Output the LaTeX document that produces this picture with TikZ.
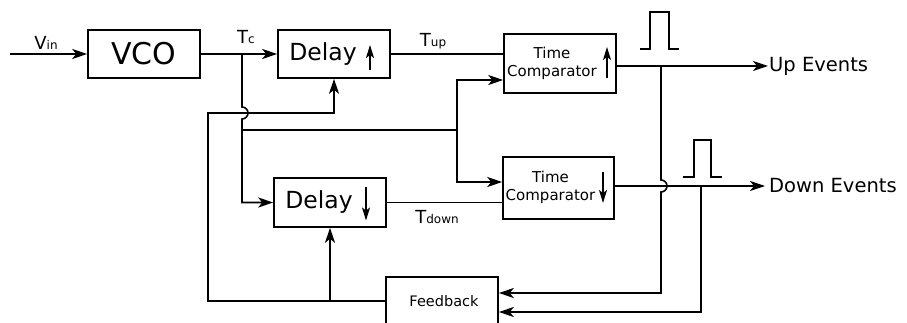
\documentclass[tikz,border=0pt]{standalone}
\usepackage{fontspec}
\setmainfont{DejaVu Sans}
\usetikzlibrary{arrows.meta}
\def\sz#1{\fontsize{#1}{#1}\selectfont}
\def\sig#1#2{{\sz{18}#1}{\sz{12}#2}}
\tikzset{
    blk/.style={draw, line width=1.6pt, minimum width=112pt, minimum height=48pt, inner sep=0pt},
    wire/.style={line width=1.6pt},
    flow/.style={wire, -{Stealth[length=15pt,width=10pt,inset=4pt]}},
    updn/.style={wire, -{Stealth[length=13pt,width=8pt,inset=3pt]}},
    lbl/.style={anchor=base, inner sep=0pt}
}

\begin{document}
\begin{tikzpicture}[x=1pt, y=-1pt]
    \useasboundingbox (0,0) rectangle (907,323);
    \clip (0,0) rectangle (907,323);

    % blocks
    \node[blk, font=\sz{30}] (vco) at (144,54) {VCO};
    \node[blk, font=\sz{23.5}] (dlyup) at (334,54) {Delay\hspace{22pt}\null};
    \node[blk, font=\sz{23.5}, minimum height=49pt] (dlydn) at (330,202.5) {Delay\hspace{22pt}\null};
    \node[blk, font=\fontsize{15}{18}\selectfont, minimum height=59pt] (cmpup) at (560,63.5)
        {\begin{tabular}{@{}c@{}}Time\\Comparator\end{tabular}\hspace{16pt}\null};
    \node[blk, font=\fontsize{15}{18}\selectfont, minimum width=111pt, minimum height=62pt] (cmpdn) at (558.5,188)
        {\begin{tabular}{@{}c@{}}Time\\Comparator\end{tabular}\hspace{16pt}\null};
    \node[blk, font=\sz{14.5}] (fb) at (442,301) {\hspace{4pt}Feedback};
    \node[anchor=west, inner sep=1pt, font=\sz{19.5}] (upev) at (768,66) {Up Events};
    \node[anchor=west, inner sep=4pt, font=\sz{19.5}] (dnev) at (765,186) {Down Events};

    % up/down marks in the blocks
    \draw[updn] ([shift={(36,16)}]dlyup.center) -- ([shift={(36,-9)}]dlyup.center);
    \draw[updn] ([shift={(36,-15)}]dlydn.center) -- ([shift={(36,18)}]dlydn.center);
    \draw[updn] ([shift={(47,14.5)}]cmpup.center) -- ([shift={(47,-16.5)}]cmpup.center);
    \draw[updn] ([shift={(44.5,-16)}]cmpdn.center) -- ([shift={(44.5,15)}]cmpdn.center);

    % labels
    \coordinate (in) at (10,54);
    \node[lbl] (vin) at (46,50) {\sig{V}{in}};
    \node[lbl] (tc) at (246,44) {\sig{T}{c}};
    \node[lbl] (tup) at (433,47) {\sig{T}{up}};
    \node[lbl] (tdn) at (437,223) {\sig{T}{down}};

    % junctions
    \coordinate (jc) at (242,54);
    \coordinate (jfb) at (208,113);
    \coordinate (jbr) at (457,130);
    \coordinate (jup) at (661,66);
    \coordinate (jdn) at (701,186);

    % forward path
    \draw[flow] (in) -- (vco.west);
    \draw[flow] (vco.east) -- (dlyup.west);
    \draw[flow] (jc) -- (242,107) arc[start angle=-90, end angle=90, radius=6]
        -- (jc |- dlydn.west) -- (dlydn.west);
    \draw[wire] (jc |- jbr) -- (jbr);
    \draw[flow] (jbr) |- ([yshift=-16.5pt]cmpup.west);
    \draw[flow] (jbr) |- ([yshift=6pt]cmpdn.west);
    \draw[wire] (dlyup.east) -- (dlyup.east -| cmpup.west);
    \draw[wire] (dlydn.east) -- (dlydn.east -| cmpdn.west);
    \draw[flow] (upev.west -| cmpup.east) -- (upev.west);
    \draw[flow] (dnev.west -| cmpdn.east) -- (dnev.west);

    % feedback
    \draw[flow] (jup) -- (661,180) arc[start angle=-90, end angle=90, radius=6]
        -- (jup |- 0,293) -- ([yshift=8pt]fb.east);
    \draw[flow] (jdn) |- ([yshift=-11pt]fb.east);
    \draw[flow] (fb.west) -| (jfb) -- (jfb -| dlyup.south) -- (dlyup.south);
    \draw[flow] (dlydn.south |- fb.west) -- (dlydn.south);

    % pulses
    \draw[wire] (640,49) -- (650,49) -- (650,12) -- (669,12) -- (669,49) -- (679,49);
    \draw[wire] (683,177) -- (694,177) -- (694,140) -- (711,140) -- (711,177) -- (722,177);
\end{tikzpicture}
\end{document}
